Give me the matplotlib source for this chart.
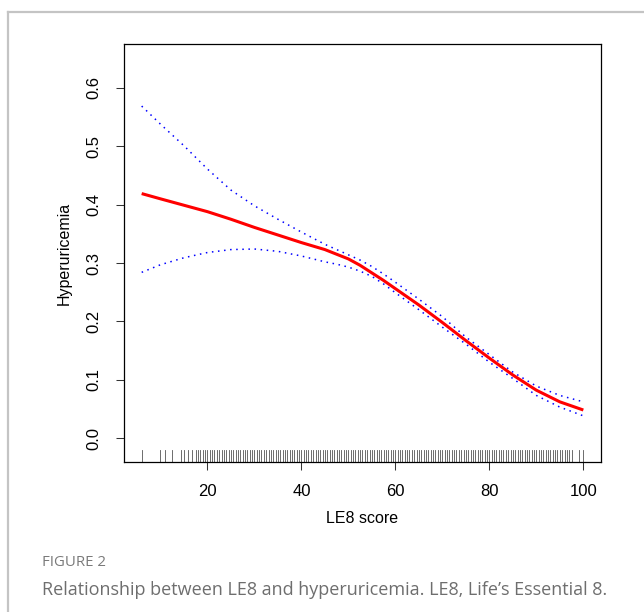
import matplotlib
matplotlib.use("Agg")
import matplotlib.pyplot as plt
from matplotlib.lines import Line2D

# ---------- data ----------
le8 = [6, 10, 15, 20, 25, 30, 35, 40, 45, 47.5,
       50, 52.5, 55, 57.5, 60, 65, 70, 75, 80, 85,
       90, 95, 100]
fit = [0.419, 0.410, 0.399, 0.388, 0.375, 0.361, 0.348, 0.335, 0.323, 0.315,
       0.307, 0.296, 0.283, 0.270, 0.256, 0.228, 0.198, 0.167, 0.137, 0.108,
       0.082, 0.062, 0.048]
upper = [0.569, 0.538, 0.501, 0.461, 0.425, 0.398, 0.375, 0.353, 0.332, 0.323,
         0.314, 0.305, 0.294, 0.281, 0.267, 0.238, 0.208, 0.173, 0.143, 0.113,
         0.089, 0.073, 0.062]
lower = [0.284, 0.297, 0.309, 0.318, 0.323, 0.324, 0.320, 0.312, 0.302, 0.298,
         0.293, 0.286, 0.277, 0.264, 0.249, 0.220, 0.190, 0.161, 0.130, 0.102,
         0.073, 0.053, 0.038]

# observed LE8 scores (rug)
rug = [6, 10, 11, 12.5, 14.4, 15, 15.8, 16.8,
       17.5, 18, 18.5, 19, 19.5,
       20, 20.5, 21, 21.5, 22, 22.5, 23, 23.5, 24, 24.5,
       25, 25.5, 26, 26.5, 27, 27.5, 28, 28.5, 29, 29.5,
       30, 30.5, 31, 31.5, 32, 32.5, 33, 33.5, 34, 34.5,
       35, 35.5, 36, 36.5, 37, 37.5, 38, 38.5, 39, 39.5,
       40, 40.5, 41, 41.5, 42, 42.5, 43, 43.5, 44, 44.5,
       45, 45.5, 46, 46.5, 47, 47.5, 48, 48.5, 49, 49.5,
       50, 50.5, 51, 51.5, 52, 52.5, 53, 53.5, 54, 54.5,
       55, 55.5, 56, 56.5, 57, 57.5, 58, 58.5, 59, 59.5,
       60, 60.5, 61, 61.5, 62, 62.5, 63, 63.5, 64, 64.5,
       65, 65.5, 66, 66.5, 67, 67.5, 68, 68.5, 69, 69.5,
       70, 70.5, 71, 71.5, 72, 72.5, 73, 73.5, 74, 74.5,
       75, 75.5, 76, 76.5, 77, 77.5, 78, 78.5, 79, 79.5,
       80, 80.5, 81, 81.5, 82, 82.5, 83, 83.5, 84, 84.5,
       85, 85.5, 86, 86.5, 87, 87.5, 88, 88.5, 89, 89.5,
       90, 90.5, 91, 91.5, 92, 92.5, 93, 93.5, 94, 94.5,
       95, 95.5, 96, 96.5, 97, 97.5,
       99, 100]

x_ticks = [20, 40, 60, 80, 100]
y_ticks = [0.0, 0.1, 0.2, 0.3, 0.4, 0.5, 0.6]
y_labels = ["0.0", "0.1", "0.2", "0.3", "0.4", "0.5", "0.6"]
# --------------------------------------------------

plt.rcParams["font.family"] = ["Liberation Sans", "DejaVu Sans"]

W, H = 644, 612
fig = plt.figure(figsize=(W / 100, H / 100), dpi=100)

# page frame (grey border of the figure panel)
fig.add_artist(Line2D([8 / W, 8 / W], [0, 1 - 12 / H], transform=fig.transFigure,
                      color="#c4c4c4", lw=1.6))
fig.add_artist(Line2D([8 / W, 1], [1 - 12 / H, 1 - 12 / H], transform=fig.transFigure,
                      color="#c4c4c4", lw=1.6))

ax = fig.add_axes([124 / W, 1 - 462 / H, (601 - 124) / W, (462 - 44) / H])

ax.plot(le8, upper, color="blue", lw=1.1, linestyle=(0, (1, 3)))
ax.plot(le8, lower, color="blue", lw=1.1, linestyle=(0, (1, 3)))
ax.plot(le8, fit, color="red", lw=2.2, solid_capstyle="butt",
        solid_joinstyle="round")

# rug along the bottom
for r in rug:
    ax.plot([r, r], [0, 0.028], transform=ax.get_xaxis_transform(),
            color="#555555", lw=0.6)

ax.set_xlim(2.24, 103.76)
ax.set_ylim(-0.0411, 0.6754)

ax.set_xticks(x_ticks)
ax.set_yticks(y_ticks)
ax.set_yticklabels(y_labels, rotation=90, va="center")
ax.tick_params(axis="both", direction="out", length=5.5, width=0.75,
               labelsize=12, color="#333333")
ax.tick_params(axis="x", pad=10)
ax.tick_params(axis="y", pad=11)
for s in ax.spines.values():
    s.set_linewidth(0.9)
    s.set_color("black")

ax.set_xlabel("LE8 score", fontsize=11.5, labelpad=9)
ax.set_ylabel("Hyperuricemia", fontsize=11.5, labelpad=10)

# caption
fig.text(42 / W, 1 - 562 / H, "FIGURE 2", family=["Open Sans", "DejaVu Sans"],
         fontsize=10.8, color="#7a7a7a", va="center", ha="left")
fig.text(42 / W, 1 - 590 / H,
         "Relationship between LE8 and hyperuricemia. LE8, Life\u2019s Essential 8.",
         family=["Open Sans", "DejaVu Sans"], fontsize=13, color="#6e6e6e",
         va="center", ha="left")

fig.savefig("out.png", dpi=100)
